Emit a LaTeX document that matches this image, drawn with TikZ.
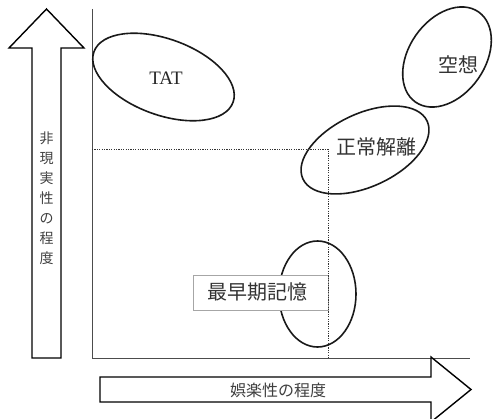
\documentclass[tikz,border=0pt]{standalone}
\usepackage{fontspec}
\setmainfont{Liberation Serif}
\newfontfamily\jp{Noto Sans CJK JP}
\usetikzlibrary{shapes.geometric}
\tikzset{
  bigarrow/.style={draw=black, line width=1.4pt, fill=white, line join=miter},
  axisline/.style={draw=black!70, line width=0.9pt},
  guide/.style={draw=black!80, line width=0.7pt, dash pattern=on 1.2pt off 1.2pt},
  blob/.style={ellipse, draw=black!90, line width=1.6pt, inner sep=0pt},
  lbl/.style={inner sep=0pt, text=black!80, font=\jp\fontsize{20}{24}\selectfont},
}
\begin{document}
\begin{tikzpicture}[x=1pt,y=-1pt]
\useasboundingbox (0,0) rectangle (502,419);
\clip (0,0) rectangle (502,419);
% axes
\coordinate (o) at (92,358);
\coordinate (ytop) at (92,9);
\coordinate (xend) at (470,358);
\draw[axisline] (ytop) -- (o) -- (xend);
% big arrows
\draw[bigarrow] (32,358) -- (32,48) -- (9,48) -- (46.5,9) -- (84,48) -- (61,48) -- (61,358) -- cycle;
\draw[bigarrow] (100,377) -- (431,377) -- (431,357) -- (471,389.5) -- (431,422) -- (431,402) -- (100,402) -- cycle;
\node[inner sep=0pt, text=black!75, align=center, font=\jp\fontsize{14}{20}\selectfont] (ylab) at (46.5,198) {非\\現\\実\\性\\の\\程\\度};
\node[inner sep=0pt, text=black!75, font=\jp\fontsize{16}{18}\selectfont] (xlab) at (278,390) {娯楽性の程度};
% ellipses
\node[blob, minimum width=148pt, minimum height=76pt, rotate=-20] (tatE) at (163.5,77) {};
\node[blob, minimum width=110pt, minimum height=76pt, rotate=55] (kuE) at (447,57) {};
\node[blob, minimum width=137pt, minimum height=73pt, rotate=25] (seE) at (365,150) {};
\node[blob, minimum width=77pt, minimum height=106pt] (saE) at (317.5,294) {};
% box label
\node[draw=black!35, line width=0.6pt, fill=white, minimum width=135pt, minimum height=35pt, inner sep=0pt] (saBox) at (260.5,292.5) {};
% dotted guides
\coordinate (gy) at (92,149);
\coordinate (gc) at (328,149);
\coordinate (gx) at (328,358);
\draw[guide] (gy) -- (gc) -- (gx);
% labels
\node[inner sep=0pt, text=black!85, font=\fontsize{19}{22}\selectfont] (tat) at (166,78) {TAT};
\node[lbl] (ku) at (458,65) {空想};
\node[lbl] (se) at (376,147) {正常解離};
\node[lbl] (sa) at (257,292) {最早期記憶};
\end{tikzpicture}
\end{document}
